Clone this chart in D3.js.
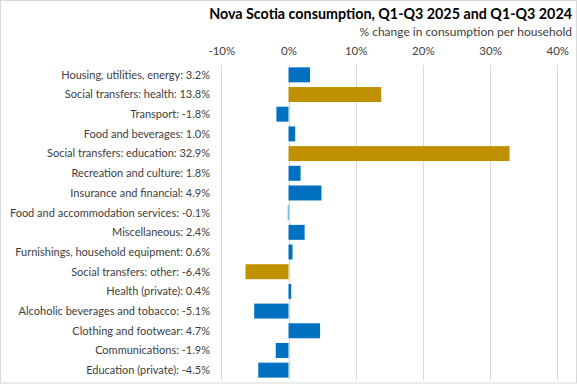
<!DOCTYPE html>
<html>
<head>
<meta charset="utf-8">
<script src="https://cdn.jsdelivr.net/npm/d3@7"></script>
<style>
  body { margin: 0; background: #fff; }
  text { font-family: Lato, "Liberation Sans", sans-serif; }
</style>
</head>
<body>
<div id="chart"></div>
<script>
const categories = [
  "Housing, utilities, energy",
  "Social transfers: health",
  "Transport",
  "Food and beverages",
  "Social transfers: education",
  "Recreation and culture",
  "Insurance and financial",
  "Food and accommodation services",
  "Miscellaneous",
  "Furnishings, household equipment",
  "Social transfers: other",
  "Health (private)",
  "Alcoholic beverages and tobacco",
  "Clothing and footwear",
  "Communications",
  "Education (private)"
];
const values = [3.2, 13.8, -1.8, 1.0, 32.9, 1.8, 4.9, -0.1, 2.4, 0.6, -6.4, 0.4, -5.1, 4.7, -1.9, -4.5];
const xTicks = [-10, 0, 10, 20, 30, 40];

const width = 577, height = 385;
const blue = "#0070c0", gold = "#bf9000";

const svg = d3.select("#chart").append("svg")
  .attr("width", width)
  .attr("height", height);

// chart border
svg.append("rect")
  .attr("x", 0.5).attr("y", 0.5)
  .attr("width", 576).attr("height", 382.5)
  .attr("fill", "none")
  .attr("stroke", "#d9d9d9");

const x = d3.scaleLinear().domain([-10, 40]).range([221.3, 557.3]);
const y = d3.scaleBand().domain(d3.range(categories.length)).range([65, 380]).paddingInner(0.24).paddingOuter(0.12);

// gridlines
svg.append("g")
  .selectAll("line")
  .data(xTicks)
  .join("line")
  .attr("x1", d => Math.round(x(d)) + 0.5)
  .attr("x2", d => Math.round(x(d)) + 0.5)
  .attr("y1", 65)
  .attr("y2", 380)
  .attr("stroke", d => d === 0 ? "#c6d9ea" : "#d9d9d9");

// top axis labels
const xAxis = d3.axisTop(x).tickValues(xTicks).tickFormat(d => d + "%").tickSize(0).tickPadding(0);
svg.append("g")
  .attr("transform", "translate(0,55)")
  .call(xAxis)
  .call(g => g.select(".domain").remove())
  .call(g => g.selectAll("text")
    .attr("fill", "#404040")
    .style("font-size", "11.5px")
    .style("font-family", "Lato, 'Liberation Sans', sans-serif"));

// bars
svg.append("g")
  .selectAll("rect")
  .data(values)
  .join("rect")
  .attr("x", d => x(Math.min(0, d)))
  .attr("y", (d, i) => y(i))
  .attr("width", d => Math.abs(x(d) - x(0)))
  .attr("height", y.bandwidth())
  .attr("fill", (d, i) => categories[i].startsWith("Social transfers") ? gold : blue);

// category labels
svg.append("g")
  .selectAll("text")
  .data(categories)
  .join("text")
  .attr("x", 210)
  .attr("y", (d, i) => y(i) + y.bandwidth() / 2)
  .attr("dy", "0.35em")
  .attr("text-anchor", "end")
  .attr("fill", "#404040")
  .style("font-size", "11px")
  .text((d, i) => d + ": " + values[i].toFixed(1) + "%");

// titles
svg.append("text")
  .attr("x", 572)
  .attr("y", 19)
  .attr("text-anchor", "end")
  .attr("fill", "#000")
  .style("font-size", "14.3px")
  .style("font-weight", "bold")
  .text("Nova Scotia consumption, Q1-Q3 2025 and Q1-Q3 2024");

svg.append("text")
  .attr("x", 572)
  .attr("y", 36)
  .attr("text-anchor", "end")
  .attr("fill", "#404040")
  .style("font-size", "12px")
  .text("% change in consumption per household");
</script>
</body>
</html>
